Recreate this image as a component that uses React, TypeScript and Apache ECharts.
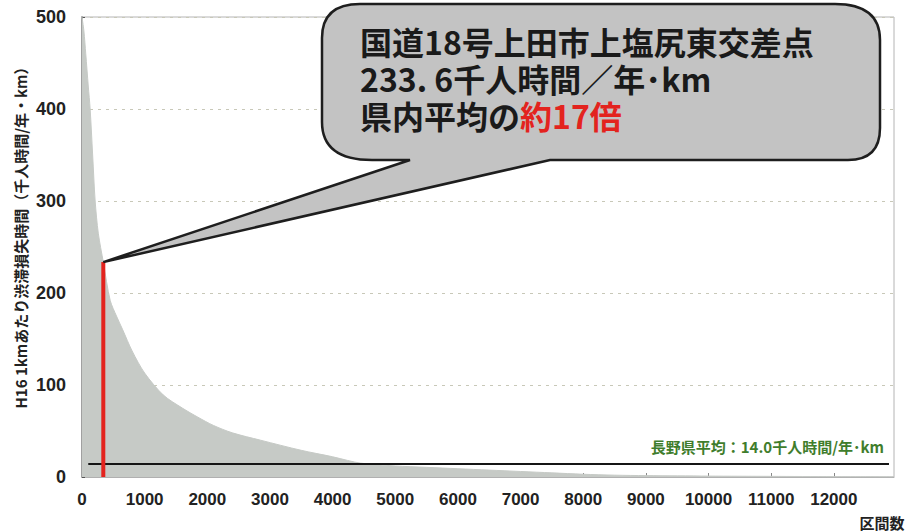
import React, { useEffect, useRef } from "react";
import * as echarts from "echarts";

// Curve: 1km-based congestion loss per section, sorted descending (x = section rank)
const curveX = [0, 30, 60, 100, 130, 170, 210, 260, 340, 450, 550, 650, 800, 1000, 1300, 1600, 1850, 2100, 2400, 2850, 3500, 4000, 4240, 4450, 5000, 5500, 6000, 6500, 7000, 7500, 8000, 8500, 9000, 10000, 11000, 12000, 12950];
const curveY = [500, 485, 460, 425, 400, 350, 300, 265, 233.6, 192, 175, 160, 137, 113, 89, 75, 65, 56, 48, 40, 29, 22, 18, 15, 12, 10.5, 9, 7.5, 6, 4.5, 3, 2, 1.5, 1, 0.7, 0.4, 0.2];

const highlightX = 340;
const highlightValue = 233.6;
const averageValue = 14.0;
const averageRange = [100, 12880];

const xMax = 12960;
const xInterval = 1000;
const yMax = 500;
const yInterval = 100;

const yAxisTitle = "H16 1kmあたり渋滞損失時間（千人時間/年・km）";
const xAxisTitle = "区間数";
const averageLabel = "長野県平均：14.0千人時間/年･km";
const calloutLine1 = "国道18号上田市上塩尻東交差点";
const calloutLine2 = "233. 6千人時間／年･km";
const calloutLine3a = "県内平均の";
const calloutLine3b = "約17倍";

const JP = '"Noto Sans CJK JP", "Noto Sans", sans-serif';
const NUM = '"Liberation Sans", Arial, sans-serif';

export default function App() {
  const ref = useRef<HTMLDivElement>(null);

  useEffect(() => {
    const chart = echarts.init(ref.current!, null, { renderer: "svg" });
    const curveData = curveX.map((x, i) => [x, curveY[i]]);

    chart.setOption({
      animation: false,
      backgroundColor: "#ffffff",
      grid: {
        left: 82,
        right: 28,
        top: 17,
        bottom: 55,
        show: true,
        borderColor: "#b4b4b4",
        borderWidth: 1,
        backgroundColor: "transparent",
      },
      xAxis: {
        type: "value",
        min: 0,
        max: xMax,
        interval: xInterval,
        axisLine: { show: true, lineStyle: { color: "#b0b0b0", width: 1 } },
        axisTick: { show: true, inside: true, length: 4, lineStyle: { color: "#888" } },
        splitLine: { show: false },
        axisLabel: {
          showMaxLabel: false,
          margin: 14,
          color: "#222",
          fontSize: 17,
          fontWeight: "bold",
          fontFamily: NUM,
          formatter: (v: number) => String(v),
        },
      },
      yAxis: {
        type: "value",
        min: 0,
        max: yMax,
        interval: yInterval,
        axisLine: { show: true, lineStyle: { color: "#a0a0a0", width: 2 } },
        axisTick: { show: true, inside: true, length: 3, lineStyle: { color: "#555" } },
        splitLine: { show: true, lineStyle: { color: "#c8c8b8", type: [3, 5], width: 1 } },
        axisLabel: {
          margin: 16,
          color: "#222",
          fontSize: 18,
          fontWeight: "bold",
          fontFamily: NUM,
          formatter: (v: number) => String(v),
        },
      },
      series: [
        {
          type: "line",
          data: curveData,
          symbol: "none",
          smooth: 0.3,
          lineStyle: { color: "#c6cac6", width: 1 },
          areaStyle: { color: "#c6cac6", opacity: 1 },
          z: 1,
        },
        {
          type: "line",
          data: [[averageRange[0], averageValue], [averageRange[1], averageValue]],
          symbol: "none",
          lineStyle: { color: "#151515", width: 2 },
          z: 3,
        },
        {
          type: "line",
          data: [[highlightX, 0], [highlightX, highlightValue]],
          symbol: "none",
          lineStyle: { color: "#e3231e", width: 4 },
          z: 4,
        },
      ],
    });

    const tip = chart.convertToPixel({ gridIndex: 0 }, [highlightX, highlightValue]) as number[];
    const tx = tip[0];
    const ty = tip[1];
    const d =
      `M 360 4 L 835 4 Q 880 4 880 40 L 880 128 Q 880 160 848 160 L 550 160 L ${tx} ${ty} ` +
      `L 410 160 L 372 160 Q 322 160 322 122 L 322 38 Q 322 4 360 4 Z`;
    echarts.graphic.registerShape("callout", echarts.graphic.extendPath(d, {}) as any);

    const richBase = { fontSize: 32, lineHeight: 37, fontWeight: "bold", fontFamily: JP };

    chart.setOption({
      graphic: [
        {
          type: "callout",
          x: 0,
          y: 0,
          scaleX: 1,
          scaleY: 1,
          z: 10,
          style: { fill: "#c3c3c3", stroke: "#1e1e1e", lineWidth: 2.5 },
        },
        {
          type: "text",
          z: 11,
          style: {
            text: `{b|${calloutLine1}}\n{b|${calloutLine2}}\n{b|${calloutLine3a}}{r|${calloutLine3b}}`,
            x: 360,
            y: 78,
            align: "left",
            verticalAlign: "middle",
            rich: {
              b: { ...richBase, fill: "#1a1a1a" },
              r: { ...richBase, fill: "#e3231e" },
            },
          },
        },
        {
          type: "text",
          z: 12,
          style: {
            text: averageLabel,
            x: 884,
            y: 446,
            align: "right",
            verticalAlign: "middle",
            fill: "#3f7d2c",
            fontSize: 15,
            fontWeight: "bold",
            fontFamily: JP,
          },
        },
        {
          type: "text",
          z: 12,
          style: {
            text: xAxisTitle,
            x: 882,
            y: 522,
            align: "center",
            verticalAlign: "middle",
            fill: "#222",
            fontSize: 15,
            fontWeight: "bold",
            fontFamily: JP,
          },
        },
        {
          type: "text",
          z: 12,
          x: 20,
          y: 234,
          rotation: Math.PI / 2,
          style: {
            text: yAxisTitle,
            x: 0,
            y: 0,
            align: "center",
            verticalAlign: "middle",
            fill: "#222",
            fontSize: 15,
            fontWeight: "bold",
            fontFamily: JP,
          },
        },
      ],
    });

    return () => chart.dispose();
  }, []);

  return (
    <div
      ref={ref}
      style={{ position: "fixed", left: 0, top: 0, width: 922, height: 532 }}
    />
  );
}
